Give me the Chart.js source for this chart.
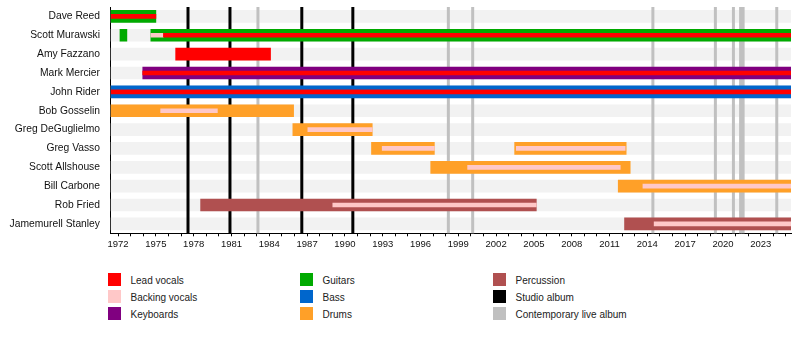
<!DOCTYPE html>
<html>
<head>
<meta charset="utf-8">
<script src="https://cdn.jsdelivr.net/npm/chart.js@4"></script>
<style>
  body { margin: 0; background: #fff; font-family: 'Liberation Sans', Arial, sans-serif; }
  #wrap { position: relative; width: 800px; height: 340px; }
  #box { position: absolute; left: 0; top: 0; width: 800px; height: 258px; }
  .item { position: absolute; font-size: 10px; color: #222; height: 13px; line-height: 13px; white-space: nowrap; }
  .item i { position: absolute; left: 0; top: 0; width: 13px; height: 13px; }
  .item span { position: absolute; left: 22.5px; top: 1px; }
</style>
</head>
<body>
<div id="wrap">
  <div id="box"><canvas id="timeline"></canvas></div>
  <div id="legend"></div>
</div>
<script>
// band members, top to bottom
const members = ['Dave Reed', 'Scott Murawski', 'Amy Fazzano', 'Mark Mercier', 'John Rider', 'Bob Gosselin',
  'Greg DeGuglielmo', 'Greg Vasso', 'Scott Allshouse', 'Bill Carbone', 'Rob Fried', 'Jamemurell Stanley'];

const XMIN = 1971.36;
const START = 1971.45;
const END = 2025.4;

// main bars [member, from, to]
const guitars = [['Dave Reed', START, 1975.0], ['Scott Murawski', 1972.15, 1972.7], ['Scott Murawski', 1974.6, END]];
const leadVocals = [['Amy Fazzano', 1976.57, 1984.1]];
const keyboards = [['Mark Mercier', 1973.96, END]];
const bass = [['John Rider', START, END]];
const drums = [['Bob Gosselin', START, 1985.93], ['Greg DeGuglielmo', 1985.87, 1992.17], ['Greg Vasso', 1992.11, 1997.1],
  ['Greg Vasso', 2003.47, 2012.32], ['Scott Allshouse', 1996.81, 2012.64], ['Bill Carbone', 2011.69, END]];
const percussion = [['Rob Fried', 1978.55, 2005.19], ['Jamemurell Stanley', 2012.19, END]];

// thin inner stripes
const leadVocalsLine = [['Dave Reed', START, 1975.0], ['Scott Murawski', 1975.6, END], ['Mark Mercier', 1973.96, END], ['John Rider', START, END]];
const backingVocalsLine = [['Scott Murawski', 1974.6, 1975.6], ['Bob Gosselin', 1975.38, 1979.88], ['Greg DeGuglielmo', 1987.06, 1992.17],
  ['Greg Vasso', 1992.96, 1997.1], ['Greg Vasso', 2003.6, 2012.24], ['Scott Allshouse', 1999.74, 2011.85],
  ['Bill Carbone', 2013.65, END], ['Rob Fried', 1989.04, 2005.19], ['Jamemurell Stanley', 2014.54, END]];

// album release lines
const studioAlbums = [1977.55, 1980.88, 1986.58, 1990.63];
const liveAlbums = [1983.1, 1998.21, 2000.14, 2014.44, 2019.4, 2020.83, 2021.4, 2021.6, 2024.27];

// year ticks
const yearTicks = [];
for (let y = 1972; y <= 2025; y++) yearTicks.push(y);

const colors = {
  lead: '#ff0000', backing: '#ffc8c8', keys: '#800080', guitars: '#00aa00', bass: '#0066cc',
  drums: '#ffa028', perc: '#b05050', studio: '#000000', live: '#c0c0c0', band: '#f2f2f2'
};

function toBars(list) {
  return list.map(r => ({ y: r[0], x: [r[1], r[2]] }));
}

function barSet(label, list, color, thick, order) {
  return {
    label: label, data: toBars(list), backgroundColor: color, barThickness: thick,
    grouped: false, borderWidth: 0, borderSkipped: false, order: order
  };
}

const datasets = [
  barSet('Lead vocals line', leadVocalsLine, colors.lead, 4, 1),
  barSet('Backing vocals line', backingVocalsLine, colors.backing, 4, 1),
  barSet('Guitars', guitars, colors.guitars, 12, 5),
  barSet('Lead vocals', leadVocals, colors.lead, 12, 5),
  barSet('Keyboards', keyboards, colors.keys, 12, 5),
  barSet('Bass', bass, colors.bass, 12, 5),
  barSet('Drums', drums, colors.drums, 12, 5),
  barSet('Percussion', percussion, colors.perc, 12, 5),
  barSet('band', members.map(m => [m, START, END]), colors.band, 12, 10)
];
datasets[datasets.length - 1].isBand = true;

// draws album lines right after the grey bands, under the member bars
const albumLines = {
  id: 'albumLines',
  afterDatasetDraw(chart, args) {
    if (!chart.data.datasets[args.index].isBand) return;
    const ctx = chart.ctx, area = chart.chartArea, xs = chart.scales.x;
    ctx.save();
    ctx.lineWidth = 3;
    ctx.strokeStyle = colors.live;
    liveAlbums.forEach(v => {
      const px = xs.getPixelForValue(v);
      ctx.beginPath(); ctx.moveTo(px, area.top); ctx.lineTo(px, area.bottom); ctx.stroke();
    });
    ctx.strokeStyle = colors.studio;
    studioAlbums.forEach(v => {
      const px = xs.getPixelForValue(v);
      ctx.beginPath(); ctx.moveTo(px, area.top); ctx.lineTo(px, area.bottom); ctx.stroke();
    });
    ctx.restore();
  }
};

const font = "'Liberation Sans', Arial, sans-serif";

new Chart(document.getElementById('timeline'), {
  type: 'bar',
  data: { labels: members, datasets: datasets },
  options: {
    indexAxis: 'y',
    responsive: true,
    maintainAspectRatio: false,
    animation: false,
    layout: { padding: { top: 7, right: 9, bottom: 0, left: 0 } },
    plugins: { legend: { display: false }, tooltip: { enabled: false } },
    scales: {
      x: {
        type: 'linear', min: XMIN, max: END,
        afterBuildTicks: s => { s.ticks = yearTicks.map(v => ({ value: v })); },
        afterFit: s => { s.height = 24.7; },
        grid: { drawOnChartArea: false, color: '#000', tickLength: 3 },
        border: { color: '#000', width: 1 },
        ticks: {
          autoSkip: false, maxRotation: 0, padding: 2, color: '#111',
          font: { family: font, size: 9.5 },
          callback: v => ((v - 1972) % 3 === 0 ? String(v) : '')
        }
      },
      y: {
        afterFit: s => { s.width = 110; },
        grid: { display: true, drawOnChartArea: false, color: 'rgba(0,0,0,0)', tickLength: 10 },
        border: { display: true, color: '#000', width: 1 },
        ticks: { padding: 0, color: '#111', font: { family: font, size: 10.3 } }
      }
    }
  },
  plugins: [albumLines]
});

// legend, three columns
const legendItems = [
  ['Lead vocals', colors.lead], ['Backing vocals', colors.backing], ['Keyboards', colors.keys],
  ['Guitars', colors.guitars], ['Bass', colors.bass], ['Drums', colors.drums],
  ['Percussion', colors.perc], ['Studio album', colors.studio], ['Contemporary live album', colors.live]
];
const colX = [108, 300, 493];
const rowY = [272.5, 289.5, 306.5];
const legend = document.getElementById('legend');
legendItems.forEach((it, i) => {
  const d = document.createElement('div');
  d.className = 'item';
  d.style.left = colX[Math.floor(i / 3)] + 'px';
  d.style.top = rowY[i % 3] + 'px';
  d.innerHTML = '<i style="background:' + it[1] + '"></i><span>' + it[0] + '</span>';
  legend.appendChild(d);
});
</script>
</body>
</html>
